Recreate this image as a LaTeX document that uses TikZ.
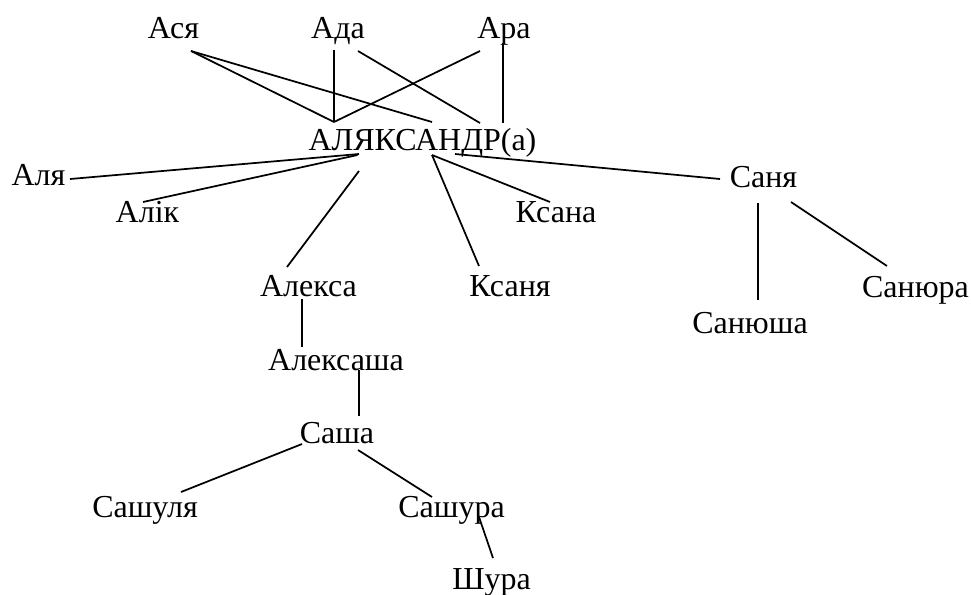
\documentclass[tikz,border=0pt]{standalone}
\usepackage{fontspec}
\setmainfont{Liberation Serif}
\begin{document}
\begin{tikzpicture}[x=0.75pt,y=-0.75pt,
    word/.style={inner sep=0pt,anchor=base,font=\fontsize{24}{28}\selectfont},
    link/.style={line width=1.3pt}]
    \useasboundingbox (0,0) rectangle (971,594);
    % Top names
    \node[word] (asya) at (173.5,38) {Ася};
    \node[word] (ada) at (338,38) {Ада};
    \node[word] (ara) at (504,38) {Ара};
    \node[word] (alex) at (422.5,150) {АЛЯКСАНДР(а)};

    % Short forms
    \node[word] (alya) at (38.5,185) {Аля};
    \node[word] (alik) at (147.5,222) {Алік};
    \node[word] (ksana) at (556,222) {Ксана};
    \node[word] (aleksa) at (308.5,296) {Алекса};
    \node[word] (ksanya) at (510,296) {Ксаня};
    \node[word] (sanya) at (763.5,187) {Саня};
    \node[word] (sanyusha) at (750,333) {Санюша};
    \node[word] (sanyura) at (915.5,297) {Санюра};
    \node[word] (aleksasha) at (336,370) {Алексаша};
    \node[word] (sasha) at (337,443) {Саша};
    \node[word] (sashulya) at (145,517) {Сашуля};
    \node[word] (sashura) at (451.5,517) {Сашура};
    \node[word] (shura) at (491.5,589) {Шура};

    % Links to the full name
    \draw[link] ([shift={(17.5,13)}]asya.base) -- ([shift={(9.5,-28)}]alex.base);
    \draw[link] ([shift={(17.5,13)}]asya.base) -- ([shift={(-88.5,-28)}]alex.base);
    \draw[link] ([shift={(-4,12)}]ada.base) -- ([shift={(-88.5,-28)}]alex.base);
    \draw[link] ([shift={(20,13)}]ada.base) -- ([shift={(57.5,-27)}]alex.base);
    \draw[link] ([shift={(-24,13)}]ara.base) -- ([shift={(-88.5,-28)}]alex.base);
    \draw[link] ([shift={(-1,5)}]ara.base) -- ([shift={(80.5,-27)}]alex.base);

    \draw[link] ([shift={(31.5,-6)}]alya.base) -- ([shift={(-63.5,4)}]alex.base);
    \draw[link] ([shift={(-4.5,-20)}]alik.base) -- ([shift={(-65,5)}]alex.base);
    \draw[link] ([shift={(-63.5,21)}]alex.base) -- ([shift={(-21.5,-29)}]aleksa.base);
    \draw[link] ([shift={(9.5,5)}]alex.base) -- ([shift={(-31,-30)}]ksanya.base);
    \draw[link] ([shift={(9.5,5)}]alex.base) -- ([shift={(-6,-20)}]ksana.base);
    \draw[link] ([shift={(32.5,4)}]alex.base) -- ([shift={(-43.5,-8)}]sanya.base);

    % Chains below
    \draw[link] ([shift={(-5.5,16)}]sanya.base) -- ([shift={(8,-33)}]sanyusha.base);
    \draw[link] ([shift={(27.5,15)}]sanya.base) -- ([shift={(-28.5,-31)}]sanyura.base);
    \draw[link] ([shift={(-6.5,3)}]aleksa.base) -- ([shift={(-34,-23)}]aleksasha.base);
    \draw[link] ([shift={(23,0)}]aleksasha.base) -- ([shift={(22,-27)}]sasha.base);
    \draw[link] ([shift={(-35,1)}]sasha.base) -- ([shift={(36,-25)}]sashulya.base);
    \draw[link] ([shift={(21,7)}]sasha.base) -- ([shift={(-19.5,-20)}]sashura.base);
    \draw[link] ([shift={(27.5,0)}]sashura.base) -- ([shift={(1.5,-31)}]shura.base);
\end{tikzpicture}
\end{document}
